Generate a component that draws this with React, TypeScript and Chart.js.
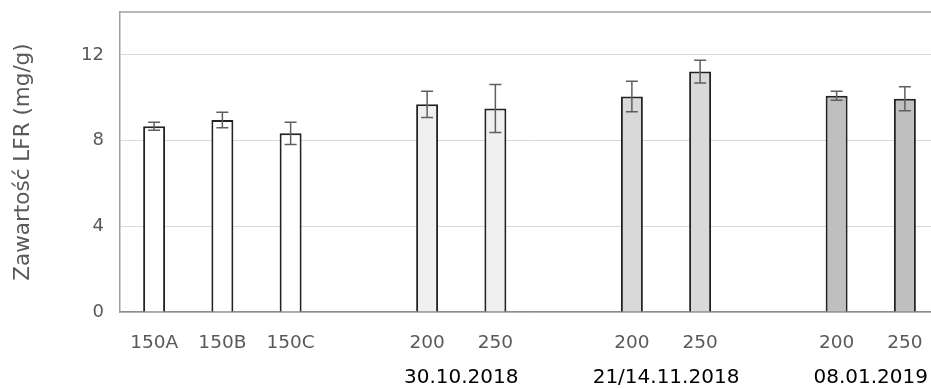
import React, { useEffect, useRef } from "react";
import { Chart, registerables } from "chart.js";

Chart.register(...registerables);

// ---- data ----
const categories = ["150A", "150B", "150C", "", "200", "250", "", "200", "250", "", "200", "250"];
const values = [8.67, 8.96, 8.34, null, 9.69, 9.5, null, 10.06, 11.22, null, 10.09, 9.95];
const errors = [0.19, 0.36, 0.52, null, 0.61, 1.12, null, 0.71, 0.53, null, 0.21, 0.56];
const groupLabels = ["30.10.2018", "21/14.11.2018", "08.01.2019"];
const groupMembers = [
  [4, 5],
  [7, 8],
  [10, 11],
];
const yTicks = [0, 4, 8, 12];
const yTitle = "Zawartość LFR (mg/g)";

// ---- style ----
const FONT = "DejaVu Sans";
const fillByIndex = ["#ffffff", "#ffffff", "#ffffff", "#ffffff", "#f0f0f0", "#f0f0f0", "#ffffff", "#d9d9d9", "#d9d9d9", "#ffffff", "#bfbfbf", "#bfbfbf"];

const errorBarPlugin = {
  id: "errorBars",
  afterDatasetsDraw(chart: any) {
    const { ctx, scales } = chart;
    const meta = chart.getDatasetMeta(0);
    const y = scales.y;
    ctx.save();
    ctx.strokeStyle = "#5f5f5f";
    ctx.lineWidth = 1.5;
    values.forEach((v, i) => {
      const e = errors[i];
      if (v == null || e == null) return;
      const x = meta.data[i].x;
      const yt = y.getPixelForValue(v + e);
      const yb = y.getPixelForValue(v - e);
      const cap = 6;
      ctx.beginPath();
      ctx.moveTo(x, yt);
      ctx.lineTo(x, yb);
      ctx.moveTo(x - cap, yt);
      ctx.lineTo(x + cap, yt);
      ctx.moveTo(x - cap, yb);
      ctx.lineTo(x + cap, yb);
      ctx.stroke();
    });
    ctx.restore();
  },
};

const framePlugin = {
  id: "frame",
  afterDraw(chart: any) {
    const { ctx, chartArea, scales } = chart;
    ctx.save();
    ctx.strokeStyle = "#a0a0a0";
    ctx.lineWidth = 1.5;
    ctx.beginPath();
    ctx.moveTo(chartArea.left, chartArea.top);
    ctx.lineTo(chartArea.right + 5, chartArea.top);
    ctx.stroke();
    // group labels
    ctx.fillStyle = "#000000";
    ctx.font = `20px "${FONT}"`;
    ctx.textAlign = "center";
    ctx.textBaseline = "middle";
    groupLabels.forEach((lbl, g) => {
      const idx = groupMembers[g];
      const xs = idx.map((i) => scales.x.getPixelForValue(i));
      const cx = xs.reduce((a, b) => a + b, 0) / xs.length;
      ctx.fillText(lbl, cx, 378);
    });
    ctx.restore();
  },
};

export default function App() {
  const ref = useRef<HTMLCanvasElement>(null);

  useEffect(() => {
    if (!ref.current) return;
    const chart = new Chart(ref.current, {
      type: "bar",
      data: {
        labels: categories,
        datasets: [
          {
            data: values as any,
            backgroundColor: fillByIndex,
            borderColor: "#222222",
            borderWidth: 2,
            barPercentage: 0.322,
            categoryPercentage: 1,
          },
        ],
      },
      options: {
        animation: false,
        responsive: false,
        maintainAspectRatio: false,
        layout: { padding: { left: 0, right: 1, top: 12, bottom: 0 } },
        plugins: {
          legend: { display: false },
          tooltip: { enabled: false },
        },
        scales: {
          x: {
            grid: { display: false, drawTicks: false },
            border: { display: true, color: "#8c8c8c", width: 1.5 },
            ticks: {
              color: "#595959",
              font: { family: FONT, size: 18.5 },
              padding: 20,
              maxRotation: 0,
              autoSkip: false,
            },
            afterFit(scale: any) {
              scale.height = 77;
              scale.paddingLeft = 0;
              scale.paddingRight = 0;
            },
          },
          y: {
            min: 0,
            max: 14,
            grid: { color: "#d9d9d9", lineWidth: 1, drawTicks: false },
            border: { display: true, color: "#a0a0a0", width: 1.5 },
            ticks: {
              stepSize: 4,
              includeBounds: false,
              color: "#595959",
              font: { family: FONT, size: 18 },
              padding: 16,
              callback: (v: any) => (yTicks.includes(Number(v)) ? String(v) : ""),
            },
            title: {
              display: true,
              text: yTitle,
              color: "#595959",
              font: { family: FONT, size: 21.5 },
              padding: { top: 11, bottom: 0 },
            },
            afterFit(scale: any) {
              scale.width = 120;
              scale.paddingTop = 0;
              scale.paddingBottom = 0;
            },
          },
        },
      },
      plugins: [errorBarPlugin, framePlugin],
    });
    return () => chart.destroy();
  }, []);

  return (
    <div
      style={{
        position: "absolute",
        left: 0,
        top: 0,
        width: 931,
        height: 389,
        overflow: "hidden",
        background: "#ffffff",
      }}
    >
      <canvas ref={ref} width={940} height={389} style={{ display: "block", width: 940, height: 389 }} />
    </div>
  );
}
